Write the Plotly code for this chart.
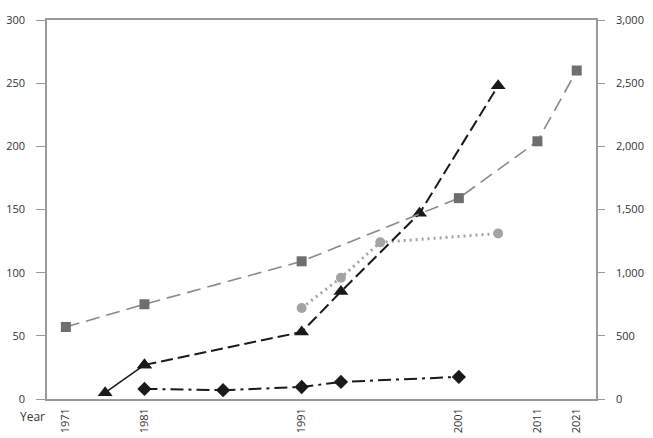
import plotly.graph_objects as go

# Category slots along the x axis (only some are labelled)
categories = ["1971", "1976", "1981", "1983", "1986", "1988", "1991",
              "1993", "1996", "1998", "2001", "2006", "2011", "2021"]
label_years = ["1971", "1981", "1991", "2001", "2011", "2021"]

# Series (None = no observation)
squares_right = [570, None, 750, None, None, None, 1090, None, None, None, 1590, None, 2040, 2600]
triangles = [None, 5, 27, None, None, None, 53, 85, None, 147, None, 248, None, None]
diamonds = [None, None, 8, None, 7, None, 9.5, 13.5, None, None, 17.5, None, None, None]
circles = [None, None, None, None, None, None, 72, 96, 124, None, None, 131, None, None]

left_ticks = [0, 50, 100, 150, 200, 250, 300]
right_ticks = [0, 500, 1000, 1500, 2000, 2500, 3000]
right_ticklabels = ["0", "500", "1,000", "1,500", "2,000", "2,500", "3,000"]

x = list(range(len(categories)))
tickvals = [categories.index(y) for y in label_years]

def pts(vals, lo=0, hi=None):
    xs, ys = [], []
    for i, v in list(enumerate(vals))[lo:hi]:
        if v is not None:
            xs.append(x[i]); ys.append(v)
    return xs, ys

fig = go.Figure()

# squares (grey, long dash) on right axis
sx, sy = pts(squares_right)
fig.add_trace(go.Scatter(x=sx, y=sy, yaxis="y2", mode="lines+markers",
                         line=dict(color="#8a8a8a", width=1.6, dash="14px,7px"),
                         marker=dict(symbol="square", size=10, color="#6e6e6e"),
                         showlegend=False))

# circles (grey, dotted)
cx, cy = pts(circles)
fig.add_trace(go.Scatter(x=cx, y=cy, mode="lines+markers",
                         line=dict(color="#a3a3a3", width=3, dash="2px,4px"),
                         marker=dict(symbol="circle", size=10, color="#a3a3a3"),
                         showlegend=False))

# diamonds (black, dash-dot)
dx, dy = pts(diamonds)
fig.add_trace(go.Scatter(x=dx, y=dy, mode="lines+markers",
                         line=dict(color="#1a1a1a", width=2, dash="13px,5px,3px,5px"),
                         marker=dict(symbol="diamond", size=11, color="#1a1a1a"),
                         showlegend=False))

# triangles: first segment solid, rest dashed
tx1, ty1 = pts(triangles, 0, 3)
fig.add_trace(go.Scatter(x=tx1, y=ty1, mode="lines+markers",
                         line=dict(color="#1a1a1a", width=1.6),
                         marker=dict(symbol="triangle-up", size=13, color="#1a1a1a"),
                         showlegend=False))
tx2, ty2 = pts(triangles, 2, None)
fig.add_trace(go.Scatter(x=tx2, y=ty2, mode="lines+markers",
                         line=dict(color="#1a1a1a", width=2, dash="12px,5px"),
                         marker=dict(symbol="triangle-up", size=13, color="#1a1a1a"),
                         showlegend=False))

axis_color = "#9a9a9a"
font = dict(family="Open Sans, Noto Sans, sans-serif", size=11, color="#333333")

fig.update_layout(
    width=653, height=438,
    margin=dict(l=47, r=57, t=20, b=39, autoexpand=False),
    plot_bgcolor="white", paper_bgcolor="white",
    font=font,
    xaxis=dict(range=[-0.48, 13.49], tickvals=tickvals, ticktext=label_years,
               tickangle=-90, showgrid=False, zeroline=False, automargin=False,
               showline=True, linecolor=axis_color, linewidth=1.5, mirror=True,
               ticks="", ticklen=0, ticklabelstandoff=3, tickfont=font),
    yaxis=dict(range=[0, 300], tickvals=left_ticks, showgrid=False, zeroline=False,
               showline=True, linecolor=axis_color, linewidth=1.5, automargin=False,
               ticks="outside", ticklen=9, tickcolor=axis_color, tickwidth=1.2,
               ticklabelstandoff=9, tickfont=font),
    yaxis2=dict(range=[0, 3000], tickvals=right_ticks, ticktext=right_ticklabels,
                overlaying="y", side="right", anchor="x", showgrid=False, zeroline=False,
                showline=True, linecolor=axis_color, linewidth=1.5, automargin=False,
                ticks="outside", ticklen=7, tickcolor=axis_color, tickwidth=1.2,
                ticklabelstandoff=9, tickfont=font),
    yaxis3=dict(range=[0, 300], tickvals=left_ticks, overlaying="y", side="left",
                anchor="x", showgrid=False, zeroline=False, showline=False,
                showticklabels=False, ticks="inside", ticklen=8, automargin=False,
                tickcolor=axis_color, tickwidth=1.2),
    yaxis4=dict(range=[0, 3000], tickvals=right_ticks, overlaying="y", side="right",
                anchor="x", showgrid=False, zeroline=False, showline=False,
                showticklabels=False, ticks="inside", ticklen=7, automargin=False,
                tickcolor=axis_color, tickwidth=1.2),
    annotations=[dict(text="Year", xref="paper", yref="paper", x=0, y=0,
                      xanchor="right", yanchor="top", xshift=0, yshift=-7,
                      showarrow=False, font=dict(family=font["family"], size=12, color="#333333"))],
)

# remove the browser's default 8px body margin so the figure sits at the page origin
fig.write_html("out.html", config={"displayModeBar": False},
               post_script="document.body.style.margin='0px';")
